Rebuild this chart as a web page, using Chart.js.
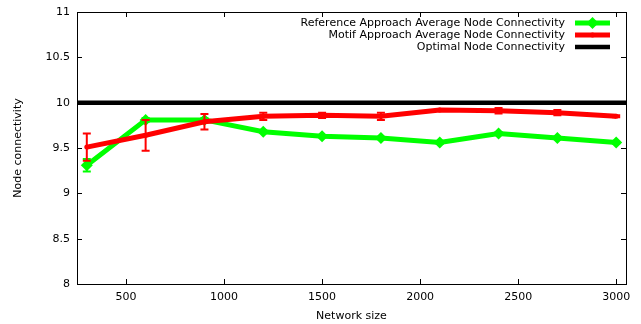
<!DOCTYPE html>
<html>
<head>
<meta charset="utf-8">
<script src="https://cdn.jsdelivr.net/npm/chart.js@4/dist/chart.umd.min.js"></script>
<style>
  html, body { margin: 0; padding: 0; background: #fff; }
  #wrap { width: 641px; height: 324px; }
</style>
</head>
<body>
<div id="wrap"><canvas id="myChart" width="641" height="324"></canvas></div>
<script>
// Data
const networkSize = [300, 600, 900, 1200, 1500, 1800, 2100, 2400, 2700, 3000];
const referenceMean = [9.31, 9.81, 9.81, 9.68, 9.63, 9.61, 9.56, 9.66, 9.61, 9.56];
const referenceErr = [0.07, 0.02, 0.02, 0.01, 0.01, 0.01, 0.01, 0.01, 0.01, 0.01];
const motifMean = [9.51, 9.64, 9.79, 9.85, 9.86, 9.85, 9.92, 9.91, 9.89, 9.85];
const motifErr = [0.15, 0.17, 0.085, 0.04, 0.03, 0.04, 0.01, 0.03, 0.03, 0.01];
const optimalX = [250, 3050];
const optimalY = [10, 10];

const xTicks = [500, 1000, 1500, 2000, 2500, 3000];
const yTicks = [8, 8.5, 9, 9.5, 10, 10.5, 11];
const seriesNames = [
  "Reference Approach Average Node Connectivity",
  "Motif Approach Average Node Connectivity",
  "Optimal Node Connectivity",
];

const FONT = "'DejaVu Sans', sans-serif";

function points(xs, ys) {
  return xs.map((x, i) => ({ x: x, y: ys[i] }));
}

// Error bars drawn right after each dataset
const errorBars = {
  id: "errorBars",
  afterDatasetDraw(chart, args) {
    const ds = chart.data.datasets[args.index];
    if (!ds.errors) return;
    const { ctx, scales: { x, y } } = chart;
    ctx.save();
    ctx.strokeStyle = ds.borderColor;
    ctx.lineWidth = 2;
    ds.data.forEach((p, i) => {
      const px = x.getPixelForValue(p.x);
      const top = y.getPixelForValue(p.y + ds.errors[i]);
      const bot = y.getPixelForValue(p.y - ds.errors[i]);
      ctx.beginPath();
      ctx.moveTo(px, top);
      ctx.lineTo(px, bot);
      ctx.moveTo(px - 4, top);
      ctx.lineTo(px + 4, top);
      ctx.moveTo(px - 4, bot);
      ctx.lineTo(px + 4, bot);
      ctx.stroke();
    });
    ctx.restore();
  },
};

// gnuplot style border with inward ticks on all four sides, plus y labels
const frame = {
  id: "frame",
  beforeDatasetsDraw(chart) {
    const { ctx, chartArea: a, scales: { x, y } } = chart;
    ctx.save();
    ctx.strokeStyle = "#000";
    ctx.lineWidth = 1;
    ctx.beginPath();
    xTicks.forEach((v) => {
      const px = Math.round(x.getPixelForValue(v)) + 0.5;
      ctx.moveTo(px, a.bottom);
      ctx.lineTo(px, a.bottom - 5);
      ctx.moveTo(px, a.top);
      ctx.lineTo(px, a.top + 5);
    });
    yTicks.forEach((v) => {
      const py = Math.round(y.getPixelForValue(v)) + 0.5;
      ctx.moveTo(a.left, py);
      ctx.lineTo(a.left + 5, py);
      ctx.moveTo(a.right, py);
      ctx.lineTo(a.right - 5, py);
    });
    ctx.stroke();
    ctx.strokeRect(Math.round(a.left) + 0.5, Math.round(a.top) + 0.5,
      Math.round(a.right - a.left), Math.round(a.bottom - a.top));

    ctx.fillStyle = "#000";
    ctx.font = "11px " + FONT;
    ctx.textAlign = "right";
    ctx.textBaseline = "middle";
    yTicks.forEach((v) => {
      ctx.fillText(String(v), a.left - 7, y.getPixelForValue(v));
    });
    ctx.restore();
  },
};

// Key in the top right corner, text right-aligned before the sample
const keyBox = {
  id: "keyBox",
  afterDraw(chart) {
    const { ctx, chartArea: a } = chart;
    ctx.save();
    ctx.font = "11px " + FONT;
    ctx.textAlign = "right";
    ctx.textBaseline = "middle";
    chart.data.datasets.forEach((ds, i) => {
      const yy = a.top + 11 + i * 12;
      const x0 = a.right - 51;
      const x1 = a.right - 16;
      ctx.fillStyle = "#000";
      ctx.fillText(ds.label, a.right - 61, yy);
      ctx.strokeStyle = ds.borderColor;
      ctx.lineWidth = ds.borderWidth;
      ctx.beginPath();
      ctx.moveTo(x0, yy);
      ctx.lineTo(x1, yy);
      ctx.stroke();
      const cx = (x0 + x1) / 2;
      if (ds.pointStyle === "rectRot") {
        ctx.fillStyle = ds.borderColor;
        ctx.beginPath();
        ctx.moveTo(cx, yy - 6);
        ctx.lineTo(cx + 6, yy);
        ctx.lineTo(cx, yy + 6);
        ctx.lineTo(cx - 6, yy);
        ctx.closePath();
        ctx.fill();
      } else if (ds.pointRadius > 0) {
        ctx.fillStyle = ds.borderColor;
        ctx.beginPath();
        ctx.arc(cx, yy, ds.pointRadius, 0, Math.PI * 2);
        ctx.fill();
      }
    });
    ctx.restore();
  },
};

const ctx = document.getElementById("myChart").getContext("2d");
const myChart = new Chart(ctx, {
  type: "line",
  data: {
    datasets: [
      {
        label: seriesNames[0],
        data: points(networkSize, referenceMean),
        errors: referenceErr,
        borderColor: "#00ff00",
        backgroundColor: "#00ff00",
        borderWidth: 5,
        pointStyle: "rectRot",
        pointRadius: 6,
        pointBorderWidth: 0,
        order: 3,
      },
      {
        label: seriesNames[1],
        data: points(networkSize, motifMean),
        errors: motifErr,
        borderColor: "#ff0000",
        backgroundColor: "#ff0000",
        borderWidth: 5,
        pointStyle: "circle",
        pointRadius: 2.5,
        pointBorderWidth: 0,
        order: 2,
      },
      {
        label: seriesNames[2],
        data: points(optimalX, optimalY),
        borderColor: "#000000",
        backgroundColor: "#000000",
        borderWidth: 4.5,
        pointRadius: 0,
        order: 1,
      },
    ],
  },
  plugins: [frame, errorBars, keyBox],
  options: {
    responsive: false,
    animation: false,
    devicePixelRatio: 1,
    layout: { padding: { top: 12, right: 15, left: 0, bottom: 0 } },
    plugins: {
      legend: { display: false },
      tooltip: { enabled: false },
    },
    elements: { line: { tension: 0 } },
    scales: {
      x: {
        type: "linear",
        min: 250,
        max: 3050,
        afterBuildTicks: (s) => { s.ticks = xTicks.map((v) => ({ value: v })); },
        afterFit: (s) => { s.height = 40; },
        grid: { display: false, drawTicks: false, tickLength: 0 },
        border: { display: false },
        ticks: {
          color: "#000",
          font: { family: FONT, size: 11 },
          padding: 7,
          maxRotation: 0,
          callback: (v) => String(v),
        },
        title: {
          display: true,
          text: "Network size",
          color: "#000",
          font: { family: FONT, size: 11 },
          padding: { top: 0, bottom: 1 },
        },
      },
      y: {
        min: 8,
        max: 11,
        afterBuildTicks: (s) => { s.ticks = yTicks.map((v) => ({ value: v })); },
        afterFit: (s) => { s.width = 77; },
        grid: { display: false, drawTicks: false, tickLength: 0 },
        border: { display: false },
        ticks: { display: false },
        title: {
          display: true,
          text: "Node connectivity",
          color: "#000",
          font: { family: FONT, size: 11 },
          padding: { top: 12, bottom: 0 },
        },
      },
    },
  },
});
</script>
</body>
</html>
